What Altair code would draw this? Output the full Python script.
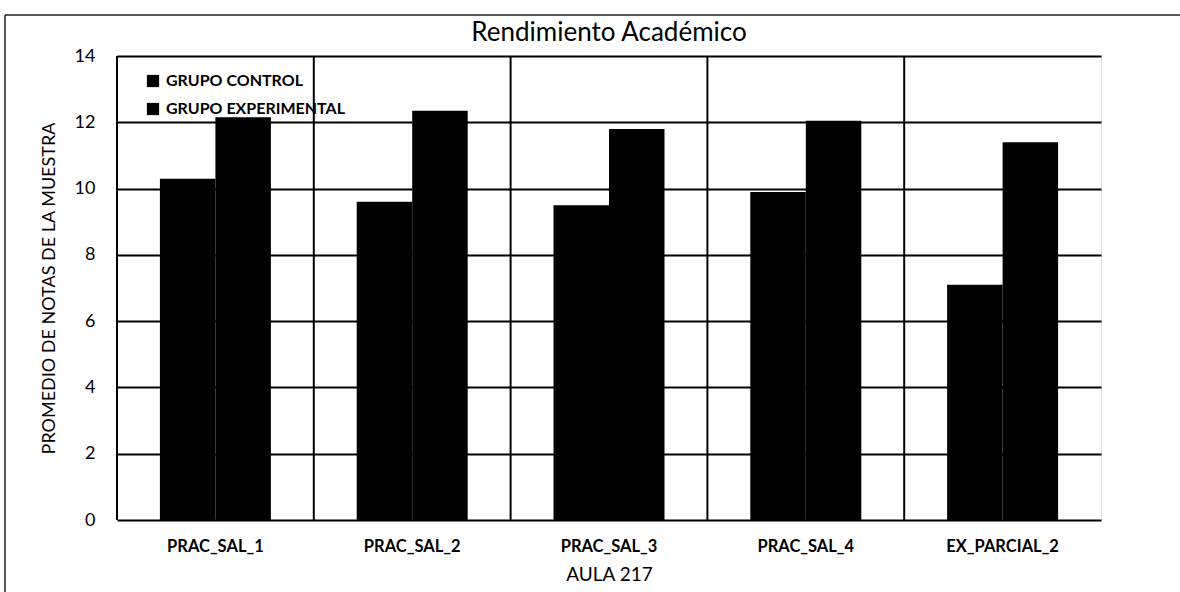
import altair as alt
import pandas as pd

# Test names, group labels and mean scores per group
categories = ["PRAC_SAL_1", "PRAC_SAL_2", "PRAC_SAL_3", "PRAC_SAL_4", "EX_PARCIAL_2"]
series = ["GRUPO CONTROL", "GRUPO EXPERIMENTAL"]
grupo_control = [10.3, 9.6, 9.5, 9.9, 7.1]
grupo_experimental = [12.15, 12.35, 11.8, 12.05, 11.4]
y_ticks = [0, 2, 4, 6, 8, 10, 12, 14]
chart_title = "Rendimiento Académico"

rows = []
for prueba, c, e in zip(categories, grupo_control, grupo_experimental):
    rows.append({"prueba": prueba, "grupo": series[0], "nota": c})
    rows.append({"prueba": prueba, "grupo": series[1], "nota": e})
df = pd.DataFrame(rows)

FONT = "Lato"
W, H = 984, 464
PAD_L, PAD_T = 117, 56

# vertical grid lines on the category boundaries
grid_x = (
    alt.Chart(pd.DataFrame({"prueba": categories}))
    .mark_rule(color="black", strokeWidth=2)
    .encode(
        x=alt.X(
            "prueba:N",
            bandPosition=0,
            scale=alt.Scale(domain=categories, paddingInner=0, paddingOuter=0),
            axis=None,
        )
    )
)

bars = (
    alt.Chart(df)
    .mark_bar(stroke=None)
    .encode(
        x=alt.X(
            "prueba:N",
            sort=categories,
            scale=alt.Scale(domain=categories, paddingInner=0.436, paddingOuter=0.218),
            axis=alt.Axis(
                title="AULA 217",
                labelAngle=0,
                labelFont=FONT,
                labelFontSize=16.5,
                labelFontWeight="bold",
                labelColor="black",
                labelPadding=18,
                titleFont=FONT,
                titleFontSize=19,
                titleFontWeight="normal",
                titleColor="black",
                titlePadding=11,
                domain=False,
                ticks=False,
                grid=False,
            ),
        ),
        xOffset=alt.XOffset(
            "grupo:N",
            sort=series,
            scale=alt.Scale(domain=series, paddingInner=0, paddingOuter=0),
        ),
        y=alt.Y(
            "nota:Q",
            scale=alt.Scale(domain=[0, 14], nice=False),
            axis=alt.Axis(
                title="PROMEDIO DE NOTAS DE LA MUESTRA",
                values=y_ticks,
                grid=True,
                gridColor="black",
                gridWidth=2,
                gridOpacity=1,
                domain=False,
                ticks=False,
                labelFont=FONT,
                labelFontSize=18,
                labelColor="black",
                labelPadding=22,
                titleFont=FONT,
                titleFontSize=18,
                titleFontWeight="normal",
                titleColor="black",
                titlePadding=16,
            ),
        ),
        color=alt.Color(
            "grupo:N",
            sort=series,
            scale=alt.Scale(domain=series, range=["#000000", "#000000"]),
            legend=alt.Legend(
                title=None,
                orient="none",
                legendX=28,
                legendY=17,
                symbolType="square",
                symbolSize=150,
                symbolFillColor="black",
                symbolStrokeWidth=0,
                symbolOpacity=1,
                labelFont=FONT,
                labelFontSize=16,
                labelFontWeight="bold",
                labelColor="black",
                labelOffset=5,
                labelLimit=0,
                rowPadding=12,
                padding=0,
            ),
        ),
    )
)

# chart title, centred above the plot area
title = (
    alt.Chart(pd.DataFrame({"t": [chart_title]}))
    .mark_text(font=FONT, fontSize=26, color="black", align="center", baseline="middle")
    .encode(text="t:N", x=alt.value(W / 2), y=alt.value(33 - PAD_T))
)

# outer frame of the chart area (top and left edges)
frame_top = (
    alt.Chart(pd.DataFrame({"k": [0]}))
    .mark_rule(color="#222222", strokeWidth=1.5)
    .encode(x=alt.value(5 - PAD_L), x2=alt.value(1180 - PAD_L), y=alt.value(15 - PAD_T))
)
frame_left = (
    alt.Chart(pd.DataFrame({"k": [0]}))
    .mark_rule(color="#222222", strokeWidth=1.5)
    .encode(x=alt.value(5 - PAD_L), y=alt.value(15 - PAD_T), y2=alt.value(592 - PAD_T))
)

chart = (
    alt.layer(grid_x, bars, title, frame_top, frame_left)
    .resolve_scale(x="independent")
    .properties(
        width=W,
        height=H,
        autosize=alt.AutoSizeParams(type="none"),
        padding={"left": PAD_L, "top": PAD_T, "right": 1180 - PAD_L - W, "bottom": 592 - PAD_T - H},
    )
    .configure_view(stroke="black", strokeWidth=2)
    .configure(background="white")
)

chart.save("out.html", embed_options={"renderer": "svg", "actions": False})
